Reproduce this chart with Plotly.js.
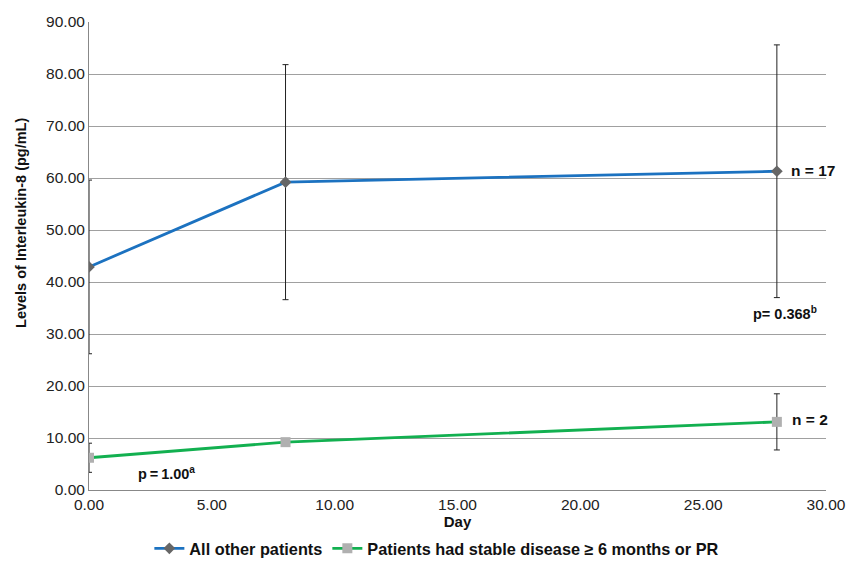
<!DOCTYPE html>
<html>
<head>
<meta charset="utf-8">
<script src="https://cdn.plot.ly/plotly-3.0.1.min.js"></script>
<style>html,body{margin:0;padding:0;background:#fff}#chart{width:857px;height:563px}</style>
</head>
<body>
<div id="chart"></div>
<script>
const days = [0, 8, 28];
const otherLabel = "All other patients";
const otherValues = [42.9, 59.2, 61.3];
const otherErrors = [16.7, 22.6, 24.3];
const stableLabel = "Patients had stable disease \u2265 6 months or PR";
const stableValues = [6.2, 9.2, 13.1];
const stableErrors = [2.8, 0, 5.4];
const yTicks = [0, 10, 20, 30, 40, 50, 60, 70, 80, 90];
const xTicks = [0, 5, 10, 15, 20, 25, 30];
const yTitle = "Levels of Interleukin-8 (pg/mL)";
const xTitle = "Day";

const font = "Liberation Sans, Arial, sans-serif";

const traces = [
  {
    x: days, y: otherValues, name: otherLabel, type: "scatter", mode: "lines+markers",
    line: {color: "#1c72c0", width: 2.8},
    marker: {symbol: "diamond", size: 9, color: "#666666"},
    error_y: {type: "data", array: otherErrors, visible: true, color: "#222222", thickness: 1, width: 3}
  },
  {
    x: days, y: stableValues, name: stableLabel, type: "scatter", mode: "lines+markers",
    line: {color: "#12b050", width: 2.8},
    marker: {symbol: "square", size: 10, color: "#b0b0b0"},
    error_y: {type: "data", array: stableErrors, visible: true, color: "#222222", thickness: 1, width: 3}
  }
];

const layout = {
  width: 857, height: 563,
  margin: {l: 89, r: 31, t: 22, b: 73, autoexpand: false},
  paper_bgcolor: "#fff", plot_bgcolor: "#fff",
  font: {family: font, color: "#222", size: 15},
  showlegend: true,
  legend: {orientation: "h", x: 0.472, xanchor: "center", y: -0.088, yanchor: "top",
           font: {family: font, size: 16.3, color: "#111", weight: "bold"}, itemwidth: 30, tracegroupgap: 0},
  xaxis: {
    range: [0, 30], tickvals: xTicks, tickformat: ".2f", showgrid: false,
    showline: true, linecolor: "#888", linewidth: 1, zeroline: false, ticks: "",
    tickfont: {size: 15.5, color: "#222"}, automargin: false,
    title: {text: xTitle, font: {size: 15, color: "#111", weight: "bold"}, standoff: 4}
  },
  yaxis: {
    range: [0, 90], tickvals: yTicks, tickformat: ".2f", showgrid: true, gridcolor: "#a0a0a0", gridwidth: 1,
    showline: true, linecolor: "#888", linewidth: 1, zeroline: false, ticks: "",
    tickfont: {size: 15.5, color: "#222"}, automargin: false
  },
  annotations: [
    {xref: "paper", yref: "paper", x: -0.0923, y: 0.5705, text: yTitle, textangle: -90, showarrow: false,
     xanchor: "center", yanchor: "middle", font: {size: 14.5, color: "#111", weight: "bold"}},
    {x: 28, y: otherValues[2], text: "n = 17", showarrow: false, xanchor: "left", xshift: 12, yshift: 1,
     font: {size: 15.5, color: "#111", weight: "bold"}},
    {x: 28, y: 34, text: "p= 0.368<sup>b</sup>", showarrow: false, xanchor: "center", xshift: 8,
     font: {size: 14.5, color: "#111", weight: "bold"}},
    {x: 28, y: stableValues[2], text: "n = 2", showarrow: false, xanchor: "left", xshift: 13, yshift: 2,
     font: {size: 15.5, color: "#111", weight: "bold"}},
    {x: 3.15, y: 3.2, text: "p\u2009=\u20091.00<sup>a</sup>", showarrow: false, xanchor: "center",
     font: {size: 14.5, color: "#111", weight: "bold"}}
  ]
};

Plotly.newPlot("chart", traces, layout, {displayModeBar: false, responsive: false});
</script>
</body>
</html>
